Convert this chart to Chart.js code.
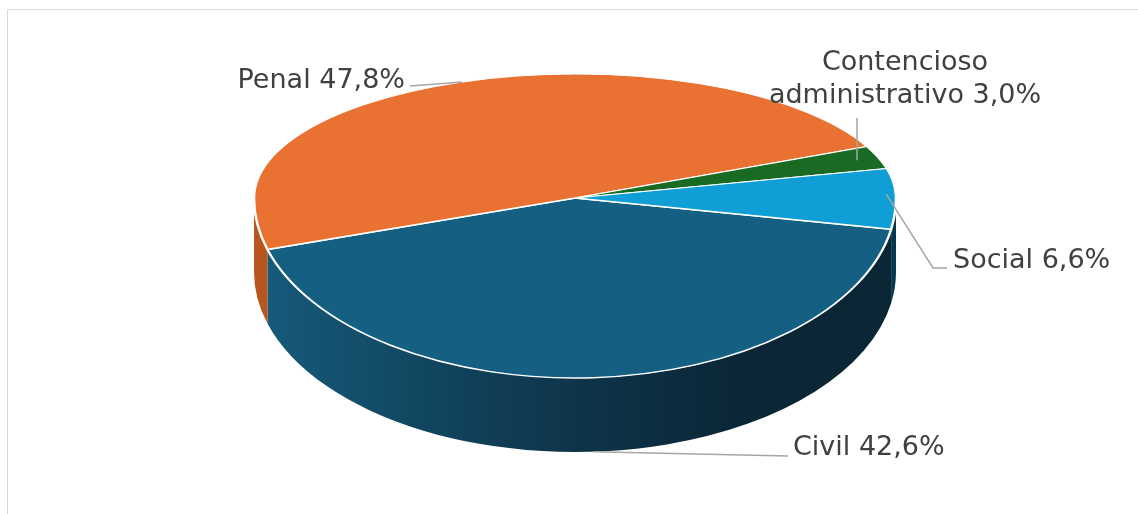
<!DOCTYPE html>
<html>
<head>
<meta charset="utf-8">
<script src="https://cdn.jsdelivr.net/npm/chart.js@4.4.1/dist/chart.umd.min.js"></script>
<style>
    html, body { margin: 0; padding: 0; background: #ffffff; overflow: hidden; }
    canvas { display: block; }
</style>
</head>
<body>
<canvas id="pie3d" width="1138" height="514"></canvas>
<script>
// data (order as in the workbook: accent1..accent4)
const categories = ["Civil", "Penal", "Contencioso administrativo", "Social"];
const shares = [42.6, 47.8, 3.0, 6.6];
const sliceColors = ["#156082", "#E97132", "#196B24", "#0F9ED5"];

// label text lines, one entry per category
const labelLines = [
    ["Civil 42,6%"],
    ["Penal 47,8%"],
    ["Contencioso", "administrativo 3,0%"],
    ["Social 6,6%"],
];

// look of the fake 3d pie
const CX = 575;      // apex x
const CY = 198;      // apex y
const RX = 321;      // horizontal radius
const RY_FAR = 124;  // top half (far side)
const RY_NEAR = 180; // bottom half (near side)
const DEPTH = 74;

// where the labels sit (x, first baseline, align) and the elbow of their leader line
// elbow points: [x, y], null x means "same x as the anchor"
const labelPlacement = [
    { x: 793, y: 455, align: "left", elbow: [[788, 456]] },
    { x: 405, y: 88, align: "right", elbow: [[410, 86]] },
    { x: 905, y: 70, align: "center", elbow: [[null, 118]], inset: 0.93 },
    { x: 953, y: 268, align: "left", elbow: [[933, 268], [947, 268]], inset: 0.97 },
];

const sideStops = [
    ["#165b7b", "#114761", "#0e344a", "#0b2737", "#0a2634"],
    ["#b8561f", "#9a4619", "#7a3714", "#5f2b10", "#55260e"],
    ["#14561c", "#104616", "#0c3511", "#09290d", "#08240b"],
    ["#0b7fae", "#09688f", "#075170", "#053f57", "#05384e"],
];

const norm = (a) => {
    let t = a % (2 * Math.PI);
    if (t < 0) t += 2 * Math.PI;
    return t;
};

const rimPoint = (a, drop, inset) => {
    const s = Math.sin(a);
    const ry = s > 0 ? RY_NEAR : RY_FAR;
    const k = inset || 1;
    return { x: CX + RX * k * Math.cos(a), y: CY + ry * k * s + (s > 0 ? drop : 0) };
};

const framePlugin = {
    id: "frame",
    beforeDraw(chart) {
        const ctx = chart.ctx;
        ctx.save();
        ctx.strokeStyle = "#d9d9d9";
        ctx.lineWidth = 1;
        ctx.strokeRect(7.5, 9.5, 1300, 700);
        ctx.restore();
    },
};

const pie3dPlugin = {
    id: "pie3d",
    beforeDatasetsDraw(chart) {
        const ctx = chart.ctx;
        const meta = chart.getDatasetMeta(0);
        const arcs = meta.data;
        if (!arcs.length) return;
        const x0 = arcs[0].x;
        const y0 = arcs[0].y;
        const R = arcs[0].outerRadius;

        // side walls, only the near half can be seen
        arcs.forEach((arc, i) => {
            const s = arc.startAngle;
            const e = arc.endAngle;
            for (let k = -1; k <= 2; k++) {
                const lo = Math.max(s, 2 * Math.PI * k);
                const hi = Math.min(e, 2 * Math.PI * k + Math.PI);
                if (hi <= lo) continue;
                const grad = ctx.createLinearGradient(CX - RX, 0, CX + RX, 0);
                const st = sideStops[i];
                st.forEach((c, j) => grad.addColorStop(j / (st.length - 1), c));
                ctx.save();
                ctx.beginPath();
                ctx.ellipse(CX, CY, RX, RY_NEAR, 0, lo, hi, false);
                ctx.ellipse(CX, CY + DEPTH, RX, RY_NEAR, 0, hi, lo, true);
                ctx.closePath();
                ctx.fillStyle = grad;
                ctx.fill();
                ctx.restore();
            }
        });

        // top face, drawn by the controller twice: far half and near half
        const halves = [
            { top: 0, bottom: CY + 1, ry: RY_FAR },
            { top: CY, bottom: chart.height, ry: RY_NEAR },
        ];
        halves.forEach((h) => {
            ctx.save();
            ctx.beginPath();
            ctx.rect(0, h.top, chart.width, h.bottom - h.top);
            ctx.clip();
            ctx.translate(CX, CY);
            ctx.scale(RX / R, h.ry / R);
            ctx.translate(-x0, -y0);
            meta.controller.draw();
            ctx.restore();
        });
        return false;
    },
    afterDraw(chart) {
        const ctx = chart.ctx;
        const arcs = chart.getDatasetMeta(0).data;
        ctx.save();
        arcs.forEach((arc, i) => {
            const mid = norm((arc.startAngle + arc.endAngle) / 2);
            const place = labelPlacement[i];
            const p = rimPoint(mid, DEPTH, place.inset);

            ctx.beginPath();
            ctx.strokeStyle = "#a6a6a6";
            ctx.lineWidth = 1.5;
            ctx.moveTo(p.x, p.y);
            place.elbow.forEach((q) => ctx.lineTo(q[0] === null ? p.x : q[0], q[1]));
            ctx.stroke();

            ctx.fillStyle = "#404040";
            ctx.font = "27px 'DejaVu Sans', Verdana, sans-serif";
            ctx.textAlign = place.align;
            ctx.textBaseline = "alphabetic";
            labelLines[i].forEach((line, j) => {
                ctx.fillText(line, place.x, place.y + j * 33);
            });
        });
        ctx.restore();
    },
};

new Chart(document.getElementById("pie3d"), {
    type: "pie",
    data: {
        labels: categories,
        datasets: [
            {
                data: shares,
                backgroundColor: sliceColors,
                borderColor: "#ffffff",
                borderWidth: 2,
            },
        ],
    },
    options: {
        responsive: false,
        animation: false,
        rotation: 100,
        layout: { padding: 0 },
        events: [],
        plugins: {
            legend: { display: false },
            tooltip: { enabled: false },
        },
    },
    plugins: [framePlugin, pie3dPlugin],
});
</script>
</body>
</html>
